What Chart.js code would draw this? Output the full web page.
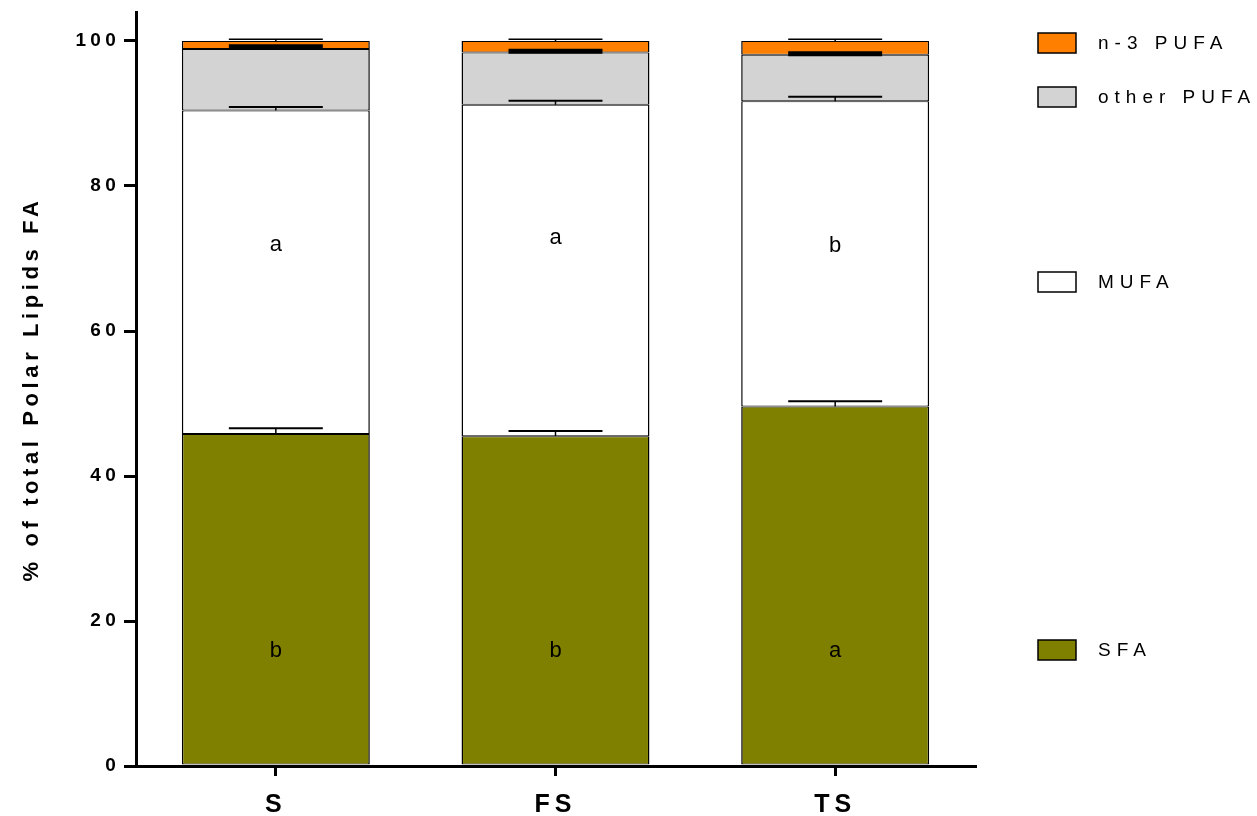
<!DOCTYPE html>
<html>
<head>
<meta charset="utf-8">
<script src="https://cdn.jsdelivr.net/npm/chart.js@4.4.1/dist/chart.umd.min.js"></script>
<style>
  html, body { margin: 0; padding: 0; background: #ffffff; }
  #wrap { width: 1257px; height: 816px; position: relative; }
</style>
</head>
<body>
<div id="wrap"><canvas id="c" width="1257" height="816"></canvas></div>
<script>
// Fatty acid classes, % of total polar lipid FA (stacked, bottom to top)
const groups = ['S', 'FS', 'TS'];
const sfa = [45.8, 45.5, 49.6];
const mufa = [44.6, 45.7, 42.1];
const otherPufa = [8.5, 7.2, 6.4];
const n3Pufa = [1.1, 1.6, 1.9];

// standard deviations (drawn upward from each segment top)
const sfaErr = [0.8, 0.7, 0.7];
const mufaErr = [0.5, 0.55, 0.6];
const otherPufaErr = [0.3, 0.2, 0.15];
const n3PufaErr = [0.25, 0.25, 0.25];

// significance letters and the heights they sit at
const sfaLetters = ['b', 'b', 'a'];
const mufaLetters = ['a', 'a', 'b'];
const sfaLetterY = [15.9, 15.9, 15.9];
const mufaLetterY = [71.9, 72.8, 71.7];

const yTicks = [0, 20, 40, 60, 80, 100];

const FONT = '"Liberation Sans", Arial, sans-serif';

const series = [
  { label: 'SFA', data: sfa, err: sfaErr, color: '#808000', capWidth: 2 },
  { label: 'MUFA', data: mufa, err: mufaErr, color: '#ffffff', capWidth: 2 },
  { label: 'other PUFA', data: otherPufa, err: otherPufaErr, color: '#d3d3d3', capWidth: 5 },
  { label: 'n-3 PUFA', data: n3Pufa, err: n3PufaErr, color: '#ff8000', capWidth: 1.5 }
];

// legend rows on the right: label -> vertical centre (px)
const legendRows = [
  { label: 'n-3 PUFA', color: '#ff8000', y: 43 },
  { label: 'other PUFA', color: '#d3d3d3', y: 97 },
  { label: 'MUFA', color: '#ffffff', y: 282 },
  { label: 'SFA', color: '#808000', y: 650 }
];

// letter spacing for axis texts
function spaced(fn, spacing) {
  return function (...args) {
    const ctx = this.ctx;
    ctx.save();
    ctx.letterSpacing = spacing;
    fn.apply(this, args);
    ctx.restore();
  };
}

const spacingPlugin = {
  id: 'spacing',
  beforeDraw(chart) {
    const x = chart.scales.x, y = chart.scales.y;
    if (!x._spaced) {
      x.drawLabels = spaced(x.drawLabels, '5px');
      x._spaced = true;
    }
    if (!y._spaced) {
      y.drawLabels = spaced(y.drawLabels, '4.3px');
      y.drawTitle = spaced(y.drawTitle, '4.6px');
      y._spaced = true;
    }
  }
};

const extrasPlugin = {
  id: 'extras',
  afterDatasetsDraw(chart) {
    const ctx = chart.ctx;
    const yScale = chart.scales.y;
    // error bars
    const cumulative = [0, 0, 0];
    series.forEach((s, di) => {
      const meta = chart.getDatasetMeta(di);
      meta.data.forEach((bar, i) => {
        cumulative[i] += s.data[i];
        const top = yScale.getPixelForValue(cumulative[i]);
        const end = yScale.getPixelForValue(cumulative[i] + s.err[i]);
        const half = bar.width * 0.25;
        ctx.save();
        ctx.strokeStyle = '#000';
        ctx.lineWidth = 1.5;
        ctx.beginPath();
        ctx.moveTo(bar.x, top);
        ctx.lineTo(bar.x, end);
        ctx.stroke();
        ctx.lineWidth = s.capWidth;
        ctx.beginPath();
        ctx.moveTo(bar.x - half, end);
        ctx.lineTo(bar.x + half, end);
        ctx.stroke();
        ctx.restore();
      });
    });
    // significance letters
    const meta0 = chart.getDatasetMeta(0);
    ctx.save();
    ctx.fillStyle = '#000';
    ctx.font = '22px ' + FONT;
    ctx.textAlign = 'center';
    ctx.textBaseline = 'middle';
    meta0.data.forEach((bar, i) => {
      ctx.fillText(sfaLetters[i], bar.x, yScale.getPixelForValue(sfaLetterY[i]));
      ctx.fillText(mufaLetters[i], bar.x, yScale.getPixelForValue(mufaLetterY[i]));
    });
    ctx.restore();
  },
  afterDraw(chart) {
    const ctx = chart.ctx;
    ctx.save();
    ctx.font = '19px ' + FONT;
    ctx.letterSpacing = '6px';
    ctx.textBaseline = 'middle';
    ctx.textAlign = 'left';
    legendRows.forEach(r => {
      ctx.fillStyle = r.color;
      ctx.fillRect(1038, r.y - 10, 38, 20);
      ctx.strokeStyle = '#000';
      ctx.lineWidth = 1.5;
      ctx.strokeRect(1038, r.y - 10, 38, 20);
      ctx.fillStyle = '#000';
      ctx.fillText(r.label, 1098, r.y + 1);
    });
    ctx.restore();
  }
};

new Chart(document.getElementById('c'), {
  type: 'bar',
  data: {
    labels: groups,
    datasets: series.map(s => ({
      label: s.label,
      data: s.data,
      backgroundColor: s.color,
      borderColor: '#000',
      borderWidth: { top: 1, bottom: 1, left: 1.5, right: 1.5 },
      borderSkipped: false,
      categoryPercentage: 1,
      barPercentage: 0.672
    }))
  },
  options: {
    responsive: false,
    animation: false,
    devicePixelRatio: 1,
    layout: { padding: { top: 12, right: 282, left: 0, bottom: 0 } },
    plugins: { legend: { display: false }, tooltip: { enabled: false } },
    scales: {
      x: {
        stacked: true,
        grid: { display: true, offset: false, drawOnChartArea: false, drawTicks: true, tickLength: 10, color: '#000', lineWidth: 3 },
        border: { display: true, color: '#000', width: 3 },
        ticks: { color: '#000', padding: 14, font: { family: FONT, size: 25, weight: 'bold' } },
        afterFit(scale) { scale.height = 50; scale.paddingLeft = 0; scale.paddingRight = 0; }
      },
      y: {
        stacked: true,
        min: 0,
        max: 104,
        afterBuildTicks(scale) { scale.ticks = yTicks.map(v => ({ value: v })); },
        grid: { display: true, drawOnChartArea: false, drawTicks: true, tickLength: 12, color: '#000', lineWidth: 3 },
        border: { display: true, color: '#000', width: 3 },
        ticks: { color: '#000', padding: 4, font: { family: FONT, size: 19, weight: 'bold' } },
        title: {
          display: true,
          text: '% of total Polar Lipids FA',
          color: '#000',
          padding: { top: 19, bottom: 0 },
          font: { family: FONT, size: 22, weight: 'bold' }
        },
        afterFit(scale) { scale.width = 136; scale.paddingTop = 0; scale.paddingBottom = 0; }
      }
    }
  },
  plugins: [spacingPlugin, extrasPlugin]
});
</script>
</body>
</html>
